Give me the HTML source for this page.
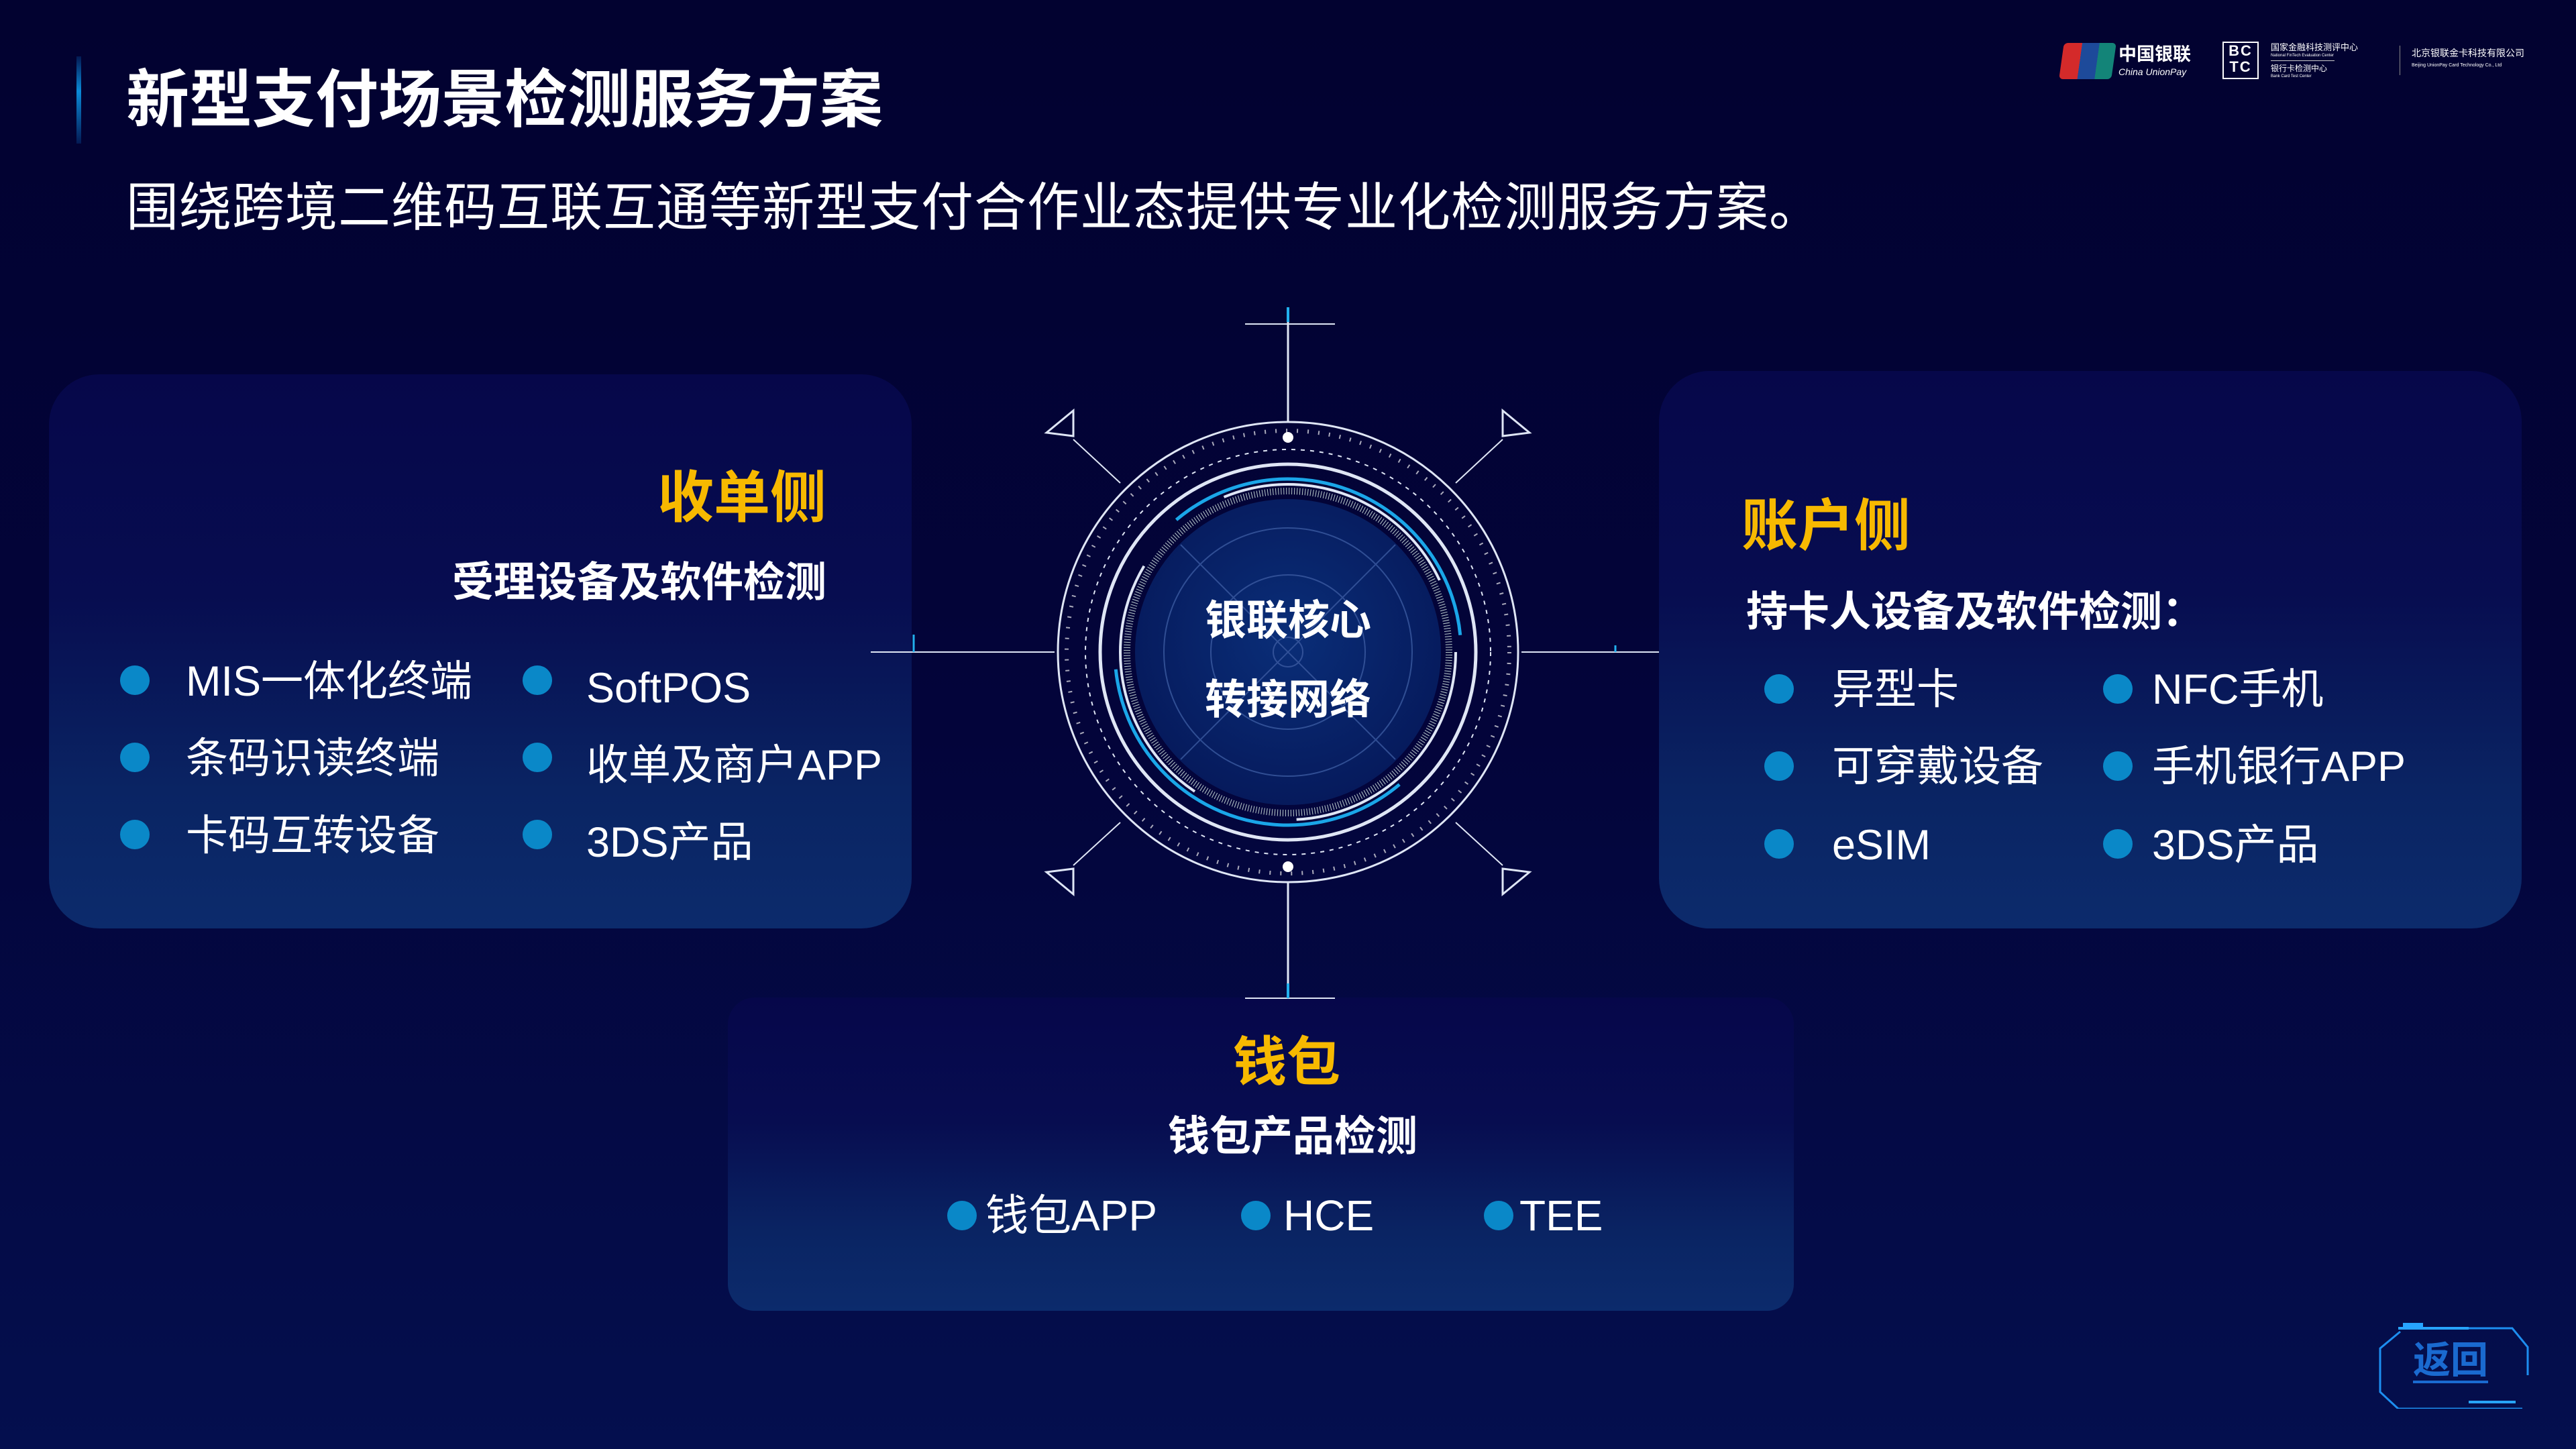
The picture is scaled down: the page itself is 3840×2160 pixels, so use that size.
<!DOCTYPE html>
<html><head><meta charset="utf-8">
<style>
html,body{margin:0;padding:0}
body{width:3840px;height:2160px;position:relative;overflow:hidden;
background:linear-gradient(180deg,#020230 0%,#03043a 50%,#040f4e 100%);
font-family:"Liberation Sans","Noto Sans CJK SC",sans-serif;color:#fff}
.t{position:absolute;line-height:1;white-space:nowrap}
.panel{position:absolute;border-radius:75px;background:linear-gradient(180deg,#06074a 0%,#070d50 40%,#0a2463 75%,#0c2b6c 100%)}
.b{position:absolute;width:44px;height:44px;border-radius:50%;background:#0a88c8}
.y{color:#f7b900;font-weight:bold}
.h{font-weight:bold}
</style></head><body>
<div style="position:absolute;left:114px;top:84px;width:7px;height:130px;background:linear-gradient(180deg,rgba(10,120,220,0.2),#0a8ad8 40%,rgba(10,120,220,0.2))"></div>
<div class="t h" style="left:188px;top:102px;font-size:94px;letter-spacing:0px">新型支付场景检测服务方案</div>
<div class="t" style="left:188px;top:270px;font-size:78px;letter-spacing:1px">围绕跨境二维码互联互通等新型支付合作业态提供专业化检测服务方案。</div>

<!-- logos -->
<div style="position:absolute;left:3073px;top:64px;width:78px;height:54px;border-radius:6px;background:linear-gradient(90deg,#d42a2a 0 35%,#1d4a9a 35% 68%,#138478 68%);transform:skewX(-8deg)"></div>
<div class="t h" style="left:3158px;top:68px;font-size:27px">中国银联</div>
<div class="t" style="left:3158px;top:100px;font-size:14px;font-style:italic">China UnionPay</div>
<div style="position:absolute;left:3313px;top:62px;width:54px;height:56px;border:2px solid #fff;box-sizing:border-box;font:bold 22px/24px 'Liberation Sans';text-align:center;letter-spacing:2px">BC<br>TC</div>
<div class="t" style="left:3385px;top:64px;font-size:13px">国家金融科技测评中心</div>
<div class="t" style="left:3385px;top:80px;font-size:6px">National FinTech Evaluation Center</div>
<div style="position:absolute;left:3385px;top:90px;width:95px;height:1px;background:#ccc"></div>
<div class="t" style="left:3385px;top:96px;font-size:12px">银行卡检测中心</div>
<div class="t" style="left:3385px;top:111px;font-size:6px">Bank Card Test Center</div>
<div style="position:absolute;left:3577px;top:68px;width:1px;height:44px;background:#888"></div>
<div class="t" style="left:3595px;top:72px;font-size:14px">北京银联金卡科技有限公司</div>
<div class="t" style="left:3595px;top:94px;font-size:7px">Beijing UnionPay Card Technology Co., Ltd</div>

<!-- left panel -->
<div class="panel" style="left:73px;top:558px;width:1286px;height:826px"></div>
<div class="t y" style="right:2608px;top:700px;font-size:84px">收单侧</div>
<div class="t h" style="right:2608px;top:838px;font-size:62px">受理设备及软件检测</div>
<div class="b" style="left:179px;top:992px"></div>
<div class="b" style="left:179px;top:1107px"></div>
<div class="b" style="left:179px;top:1222px"></div>
<div class="t" style="left:277px;top:985px;font-size:63px">MIS一体化终端</div>
<div class="t" style="left:277px;top:1100px;font-size:63px">条码识读终端</div>
<div class="t" style="left:277px;top:1215px;font-size:63px">卡码互转设备</div>
<div class="b" style="left:779px;top:992px"></div>
<div class="b" style="left:779px;top:1107px"></div>
<div class="b" style="left:779px;top:1222px"></div>
<div class="t" style="left:874px;top:995px;font-size:63px">SoftPOS</div>
<div class="t" style="left:874px;top:1110px;font-size:63px">收单及商户APP</div>
<div class="t" style="left:874px;top:1225px;font-size:63px">3DS产品</div>

<!-- right panel -->
<div class="panel" style="left:2473px;top:553px;width:1286px;height:831px"></div>
<div class="t y" style="left:2596px;top:742px;font-size:84px">账户侧</div>
<div class="t h" style="left:2603px;top:882px;font-size:62px">持卡人设备及软件检测：</div>
<div class="b" style="left:2630px;top:1005px"></div>
<div class="b" style="left:2630px;top:1120px"></div>
<div class="b" style="left:2630px;top:1236px"></div>
<div class="t" style="left:2731px;top:997px;font-size:63px">异型卡</div>
<div class="t" style="left:2731px;top:1112px;font-size:63px">可穿戴设备</div>
<div class="t" style="left:2731px;top:1229px;font-size:63px">eSIM</div>
<div class="b" style="left:3135px;top:1005px"></div>
<div class="b" style="left:3135px;top:1120px"></div>
<div class="b" style="left:3135px;top:1236px"></div>
<div class="t" style="left:3208px;top:997px;font-size:63px">NFC手机</div>
<div class="t" style="left:3208px;top:1112px;font-size:63px">手机银行APP</div>
<div class="t" style="left:3208px;top:1229px;font-size:63px">3DS产品</div>

<!-- bottom panel -->
<div class="panel" style="left:1085px;top:1487px;width:1589px;height:467px;border-radius:40px"></div>
<div class="t y" style="left:1918px;top:1544px;font-size:80px;transform:translateX(-50%)">钱包</div>
<div class="t h" style="left:1927px;top:1664px;font-size:62px;transform:translateX(-50%)">钱包产品检测</div>
<div class="b" style="left:1412px;top:1790px"></div>
<div class="b" style="left:1850px;top:1790px"></div>
<div class="b" style="left:2212px;top:1790px"></div>
<div class="t" style="left:1469px;top:1780px;font-size:64px">钱包APP</div>
<div class="t" style="left:1913px;top:1780px;font-size:64px">HCE</div>
<div class="t" style="left:2265px;top:1780px;font-size:64px">TEE</div>

<!-- center graphic -->
<svg width="3840" height="2160" style="position:absolute;left:0;top:0" xmlns="http://www.w3.org/2000/svg">
<defs>
<radialGradient id="g" cx="50%" cy="45%" r="55%"><stop offset="0" stop-color="#0a2e78"/><stop offset="1" stop-color="#061a5c"/></radialGradient>
</defs>
<g fill="none" stroke="#dfe6f5" stroke-width="3">
<line x1="1920" y1="458" x2="1920" y2="628"/>
<line x1="1856" y1="483" x2="1990" y2="483" stroke-width="2"/>
<line x1="1920" y1="458" x2="1920" y2="480" stroke="#22b0ee" stroke-width="4"/>
<line x1="1920" y1="1316" x2="1920" y2="1480"/>
<line x1="1856" y1="1488" x2="1990" y2="1488" stroke-width="2"/>
<line x1="1920" y1="1466" x2="1920" y2="1488" stroke="#22b0ee" stroke-width="4"/>
<line x1="1298" y1="972" x2="1572" y2="972" stroke-width="2"/>
<line x1="1362" y1="946" x2="1362" y2="972" stroke="#22b0ee" stroke-width="3"/>
<line x1="2268" y1="972" x2="2473" y2="972" stroke-width="2"/>
<line x1="2408" y1="962" x2="2408" y2="972" stroke="#22b0ee" stroke-width="3"/>
<line x1="1600" y1="655" x2="1670" y2="720" stroke-width="2"/>
<line x1="2240" y1="655" x2="2170" y2="720" stroke-width="2"/>
<line x1="1600" y1="1290" x2="1670" y2="1226" stroke-width="2"/>
<line x1="2240" y1="1290" x2="2170" y2="1226" stroke-width="2"/>
<polygon points="1560,645 1600,612 1600,650"/>
<polygon points="2280,645 2240,612 2240,650"/>
<polygon points="1560,1300 1600,1333 1600,1295"/>
<polygon points="2280,1300 2240,1333 2240,1295"/>
<circle cx="1920" cy="972" r="343" stroke-width="3"/>
<circle cx="1920" cy="972" r="330" stroke-dasharray="2 14" stroke="#aab" stroke-width="6"/>
<circle cx="1920" cy="972" r="302" stroke-dasharray="6 8" stroke-width="2"/>
<circle cx="1920" cy="972" r="280" stroke-width="5"/>
<circle cx="1920" cy="972" r="258" stroke="#1aa6e8" stroke-width="5" stroke-dasharray="560 250" transform="rotate(-130 1920 972)"/>
<circle cx="1920" cy="972" r="250" stroke-width="4" stroke-dasharray="380 160"/>
<circle cx="1920" cy="972" r="240" stroke="#bcc" stroke-width="10" stroke-dasharray="1 3"/>
</g>
<circle cx="1920" cy="972" r="228" fill="url(#g)"/>
<g fill="none" stroke="#3b5aa0" stroke-width="2" opacity="0.8">
<circle cx="1920" cy="972" r="185"/>
<circle cx="1920" cy="972" r="115"/>
<circle cx="1920" cy="972" r="22"/>
<line x1="1760" y1="812" x2="2080" y2="1132"/>
<line x1="2080" y1="812" x2="1760" y2="1132"/>
</g>
<circle cx="1920" cy="652" r="8" fill="#fff"/>
<circle cx="1920" cy="1292" r="8" fill="#fff"/>
<text x="1920" y="946" fill="#fff" font-size="62" font-weight="bold" text-anchor="middle" font-family="Liberation Sans,Noto Sans CJK SC,sans-serif">银联核心</text>
<text x="1920" y="1064" fill="#fff" font-size="62" font-weight="bold" text-anchor="middle" font-family="Liberation Sans,Noto Sans CJK SC,sans-serif">转接网络</text>
</svg>

<!-- return button -->
<svg width="240" height="150" style="position:absolute;left:3530px;top:1950px" xmlns="http://www.w3.org/2000/svg">
<path d="M80 30 H215 L238 58 V100 M230 150 H45 L18 125 V60 L48 35" fill="none" stroke="#1d8ef0" stroke-width="3"/>
<path d="M45 30 H150" stroke="#27a4ff" stroke-width="4"/>
<path d="M150 140 H220" stroke="#27a4ff" stroke-width="4"/>
<rect x="52" y="22" width="30" height="6" fill="#27a4ff"/>
</svg>
<div class="t h" style="left:3597px;top:2000px;font-size:56px;color:#1a6ad0;border-bottom:4px solid #1a6ad0;padding-bottom:2px">返回</div>
</body></html>
